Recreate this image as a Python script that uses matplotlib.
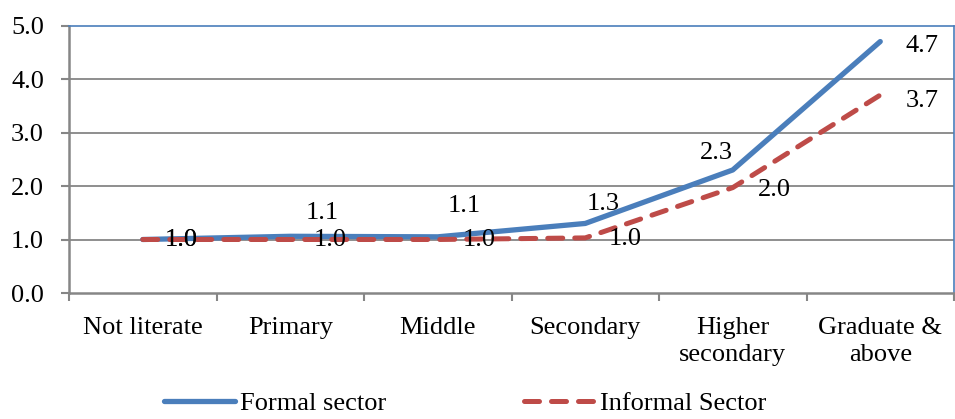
import numpy as np
import matplotlib
matplotlib.use("Agg")
import matplotlib.pyplot as plt
from matplotlib.ticker import FixedLocator, FormatStrFormatter

plt.rcParams['font.family'] = ['Liberation Serif', 'DejaVu Serif']
plt.rcParams['font.size'] = 19

# education levels and the two sector series
categories = ['Not literate', 'Primary', 'Middle', 'Secondary',
              'Higher\nsecondary', 'Graduate &\nabove']
formal = [1.0, 1.06, 1.05, 1.3, 2.3, 4.7]
informal = [1.0, 1.0, 1.0, 1.03, 1.97, 3.7]
yticks = [0, 1, 2, 3, 4, 5]

# where each value label sits relative to its point (points)
formal_off = [(28, 0), (23, 17), (19, 22), (13, 14), (-12, 12), (30, -3)]
informal_off = [(28, 0), (29, 0), (30, 0), (29, -1), (30, -2), (30, -4)]

blue = '#4A7EBB'
red = '#BE4B48'
grey = '#868686'

fig = plt.figure(figsize=(9.55, 4.19), dpi=100)
ax = fig.add_axes([69 / 955, 126 / 419, 885 / 955, 267.5 / 419])

x = np.arange(len(categories))
ax.plot(x, formal, color=blue, lw=3.8, solid_capstyle='round',
        solid_joinstyle='round', label='Formal sector', zorder=3)
ax.plot(x, informal, color=red, lw=3.6, dashes=(3.0, 2.4),
        dash_capstyle='round', label='Informal Sector', zorder=4)

for xi, v, off in zip(x, formal, formal_off):
    ax.annotate('%.1f' % v, (xi, v), xytext=off, textcoords='offset points',
                ha='center', va='center', zorder=5)
for xi, v, off in zip(x, informal, informal_off):
    ax.annotate('%.1f' % v, (xi, v), xytext=off, textcoords='offset points',
                ha='center', va='center', zorder=5)

ax.set_xlim(-0.5, len(categories) - 0.5)
ax.set_ylim(0, 5)
ax.set_yticks(yticks)
ax.yaxis.set_major_formatter(FormatStrFormatter('%.1f'))
ax.set_xticks(x)
ax.set_xticklabels(categories, linespacing=1.3)
ax.xaxis.set_minor_locator(FixedLocator(np.arange(-0.5, len(categories), 1.0)))
ax.tick_params(axis='x', which='major', length=0, pad=17)
ax.tick_params(axis='x', which='minor', length=6, width=1.5, color=grey)
ax.tick_params(axis='y', length=6, width=1.5, color=grey, pad=12)

for yv in yticks[1:-1]:
    ax.axhline(yv, color=grey, lw=1.3, zorder=1)

ax.spines['left'].set_color(grey)
ax.spines['bottom'].set_color(grey)
ax.spines['left'].set_linewidth(1.8)
ax.spines['bottom'].set_linewidth(1.8)
ax.spines['top'].set_color(blue)
ax.spines['right'].set_color(blue)
ax.spines['top'].set_linewidth(1.2)
ax.spines['right'].set_linewidth(1.2)

fig.legend(loc='center', bbox_to_anchor=(0.487, 0.037), ncol=2, frameon=False,
           handlelength=2.7, handletextpad=0.2, columnspacing=5.2,
           borderpad=0, borderaxespad=0)

fig.savefig('out.png', dpi=100)
